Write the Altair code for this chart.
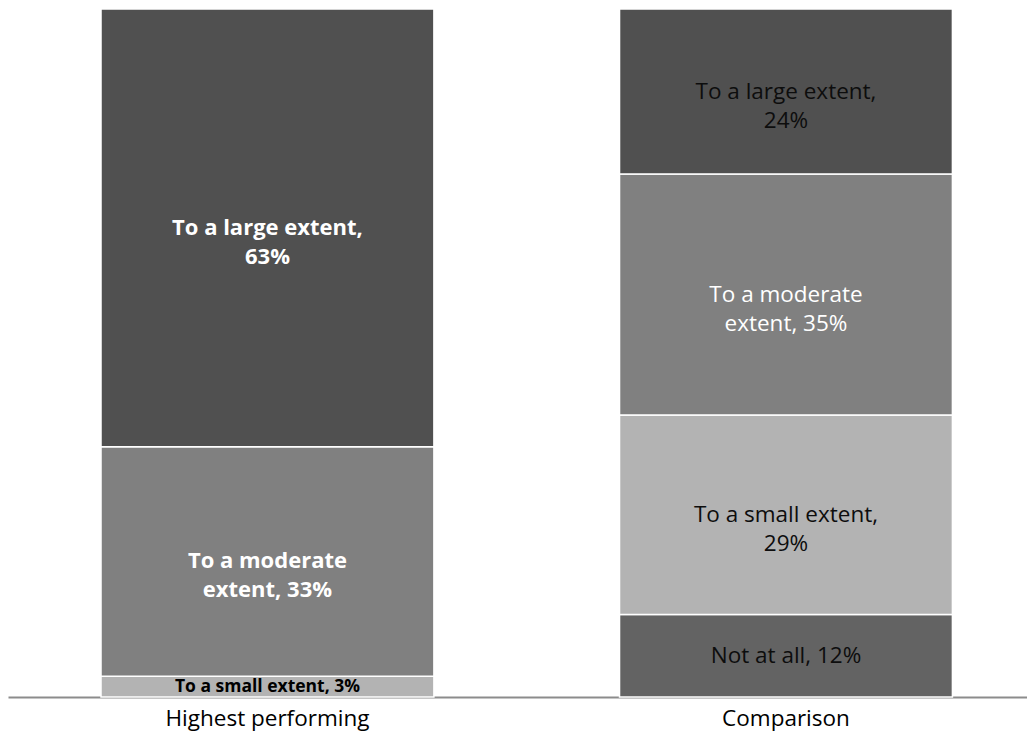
import altair as alt
import pandas as pd

groups = ["Highest performing", "Highest performing", "Highest performing",
          "Comparison", "Comparison", "Comparison", "Comparison"]
categories = ["To a small extent", "To a moderate extent", "To a large extent",
              "Not at all", "To a small extent", "To a moderate extent", "To a large extent"]
values = [3, 33, 63, 12, 29, 35, 24]
labels = ["To a small extent, 3%", "To a moderate\nextent, 33%", "To a large extent,\n63%",
          "Not at all, 12%", "To a small extent,\n29%", "To a moderate\nextent, 35%",
          "To a large extent,\n24%"]
label_colors = ["#000000", "#ffffff", "#ffffff", "#0d0d0d", "#0d0d0d", "#ffffff", "#0d0d0d"]

cat_order = {"Not at all": 0, "To a small extent": 1, "To a moderate extent": 2, "To a large extent": 3}
cat_colors = {"Not at all": "#636363", "To a small extent": "#b3b3b3",
              "To a moderate extent": "#808080", "To a large extent": "#505050"}

df = pd.DataFrame({"group": groups, "category": categories, "value": values,
                   "label": labels, "tcolor": label_colors})
df["rank"] = df["category"].map(cat_order)
df["fill"] = df["category"].map(cat_colors)

FONT = "Open Sans"

x_enc = alt.X("group:N", sort=["Highest performing", "Comparison"], title=None,
              scale=alt.Scale(paddingInner=0.358, paddingOuter=0.1616, align=0.555),
              axis=alt.Axis(domainColor="#8c8c8c", domainWidth=2, ticks=False,
                            labelAngle=0, labelFontSize=22.5, labelColor="#000000",
                            labelFont=FONT, labelPadding=10, labelLimit=0, grid=False))

base = alt.Chart(df).transform_stack(
    stack="value", as_=["y0", "y1"], groupby=["group"],
    sort=[alt.SortField("rank", order="ascending")], offset="normalize"
).transform_calculate(mid="(datum.y0 + datum.y1) / 2")

yscale = alt.Scale(domain=[0, 1], nice=False)

bars = base.mark_bar(stroke="white", strokeWidth=1.5).encode(
    x=x_enc,
    y=alt.Y("y0:Q", scale=yscale, axis=None),
    y2="y1:Q",
    color=alt.Color("fill:N", scale=None),
)

def text_layer(sel, weight, size):
    return base.transform_filter(sel).mark_text(
        font=FONT, fontSize=size, fontWeight=weight, lineBreak="\n",
        lineHeight=29, baseline="middle", align="center"
    ).encode(
        x=alt.X("group:N", sort=["Highest performing", "Comparison"]),
        y=alt.Y("mid:Q", scale=yscale),
        text="label:N",
        color=alt.Color("tcolor:N", scale=None),
    )

t_left_big = text_layer("datum.group == 'Highest performing' && datum.rank > 1", "bold", 22)
t_left_small = text_layer("datum.group == 'Highest performing' && datum.rank == 1", "bold", 17.5)
t_right = text_layer("datum.group == 'Comparison'", "normal", 22.5)

chart = alt.layer(bars, t_left_big, t_left_small, t_right).properties(
    width=1019, height=688,
    padding={"left": 0, "top": 0, "right": 0, "bottom": 5},
).configure_view(stroke=None)

chart.save("out.html", embed_options={"renderer": "svg", "actions": False})
